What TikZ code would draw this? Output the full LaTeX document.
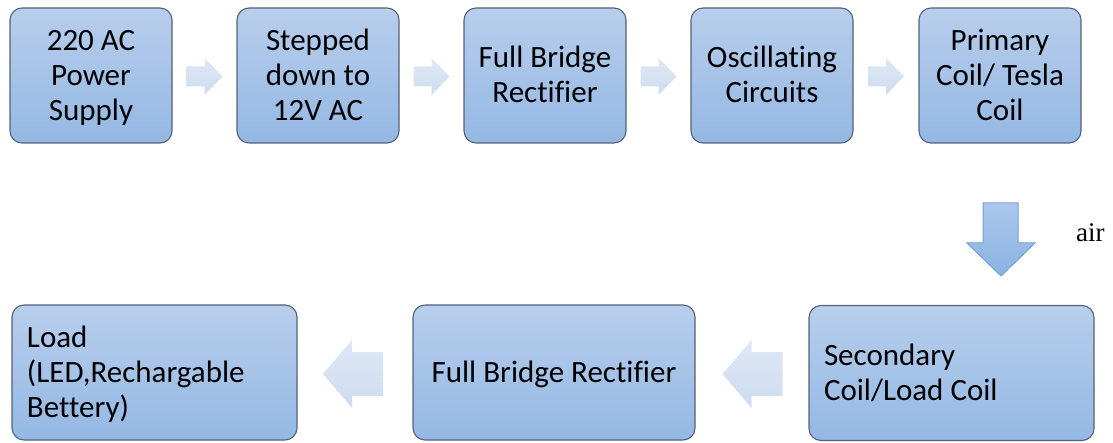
\documentclass[tikz,border=0pt]{standalone}
\usepackage{fontspec}
\setmainfont[Ligatures=NoCommon]{Carlito}
\newfontfamily\airfont{Liberation Serif}
\definecolor{boxtop}{RGB}{184,206,236}
\definecolor{boxbot}{RGB}{148,184,228}
\definecolor{boxborder}{RGB}{84,98,118}
\definecolor{lighttop}{RGB}{222,232,245}
\definecolor{lightbot}{RGB}{206,220,240}
\definecolor{downtop}{RGB}{172,200,236}
\definecolor{downbot}{RGB}{138,178,226}
\definecolor{downborder}{RGB}{116,160,214}
\newcommand\lstr{\rule[-7.5pt]{0pt}{35pt}}
\begin{document}
\begin{tikzpicture}[x=1pt,y=-1pt,
  box/.style={draw=boxborder, line width=1.1pt, rounded corners=12pt,
    top color=boxtop, bottom color=boxbot, inner sep=0pt,
    minimum height=135pt, font=\fontsize{31}{35}\selectfont, align=center},
  leftbox/.style={box, text width=255pt, align=flush left},
  lightarrow/.style={top color=lighttop, bottom color=lightbot, draw=none},
  downarrow/.style={top color=downtop, bottom color=downbot, draw=downborder, line width=1pt, line join=miter}]
\useasboundingbox (0,0) rectangle (1113,443);
% top row
\node[box, minimum width=162pt] (b1) at (91,75.5) {\lstr 220 AC\\\lstr Power\\\lstr Supply};
\node[box, minimum width=162pt] (b2) at (318,75.5) {\lstr Stepped\\\lstr down to\\\lstr 12V AC};
\node[box, minimum width=162pt] (b3) at (545,75.5) {\lstr Full Bridge\\\lstr Rectifier};
\node[box, minimum width=162pt] (b4) at (772,75.5) {\lstr Oscillating\\\lstr Circuits};
\node[box, minimum width=162pt] (b5) at (1000,75.5) {\lstr Primary\\\lstr Coil/ Tesla\\\lstr Coil};
% bottom row
\node[leftbox, minimum width=285pt] (load) at (154.5,372.5) {\lstr Load\\\lstr (LED,Rechargable\\\lstr Bettery)};
\node[box, minimum width=282pt] (fbr) at (554,372.5) {\lstr Full Bridge Rectifier};
\node[leftbox, minimum width=285pt] (sec) at (951.5,373) {\lstr Secondary\\\lstr Coil/Load Coil};
% right arrows (top row)
\foreach \c in {204.5,431.5,658.5,886}{
  \path[lightarrow] (\c-18,66.5) -- (\c,66.5) -- (\c,58) -- (\c+18,76.5) -- (\c,95) -- (\c,86.5) -- (\c-18,86.5) -- cycle;
}
% left arrows (bottom row)
\foreach \c in {353,752.5}{
  \path[lightarrow] (\c+30,352) -- (\c-1,352) -- (\c-1,340) -- (\c-30,374) -- (\c-1,408) -- (\c-1,396) -- (\c+30,396) -- cycle;
}
% down arrow
\path[downarrow] (983,203) -- (1018,203) -- (1018,243) -- (1035,243) -- (1001,276) -- (967,243) -- (983,243) -- cycle;
\node[font=\airfont\fontsize{27}{30}\selectfont, anchor=base west, inner sep=0pt] (air) at (1076,242) {air};
\end{tikzpicture}
\end{document}
